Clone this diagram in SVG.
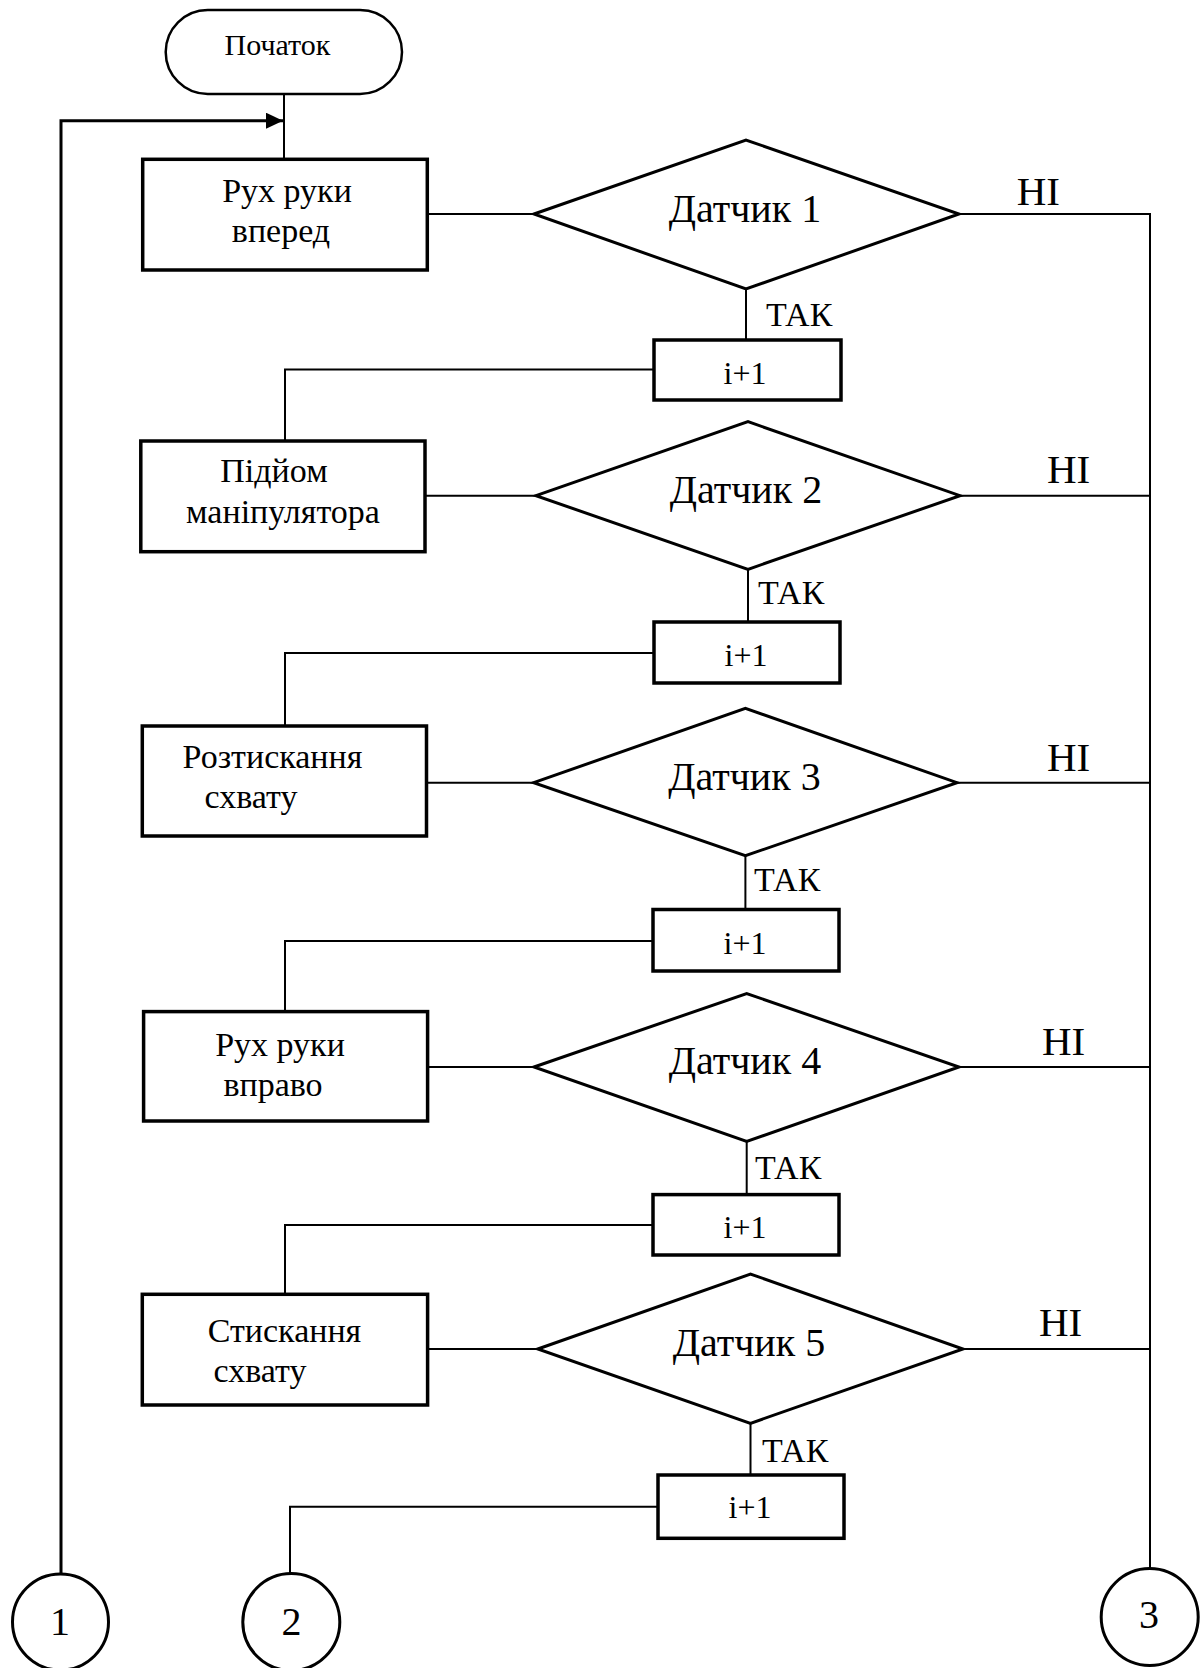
<svg xmlns="http://www.w3.org/2000/svg" width="1203" height="1668" viewBox="0 0 1203 1668">
<style>
text{font-family:"Liberation Serif","Times New Roman",serif;fill:#000;}
.box{fill:#fff;stroke:#000;stroke-width:3.5;}
.dia{fill:#fff;stroke:#000;stroke-width:3;}
.term{fill:#fff;stroke:#000;stroke-width:2.5;}
.conn{fill:#fff;stroke:#000;stroke-width:3;}
.ln{fill:none;stroke:#000;stroke-width:2;}
.lnb{fill:none;stroke:#000;stroke-width:3;}
.pt{font-size:34px;text-anchor:middle;}
.dt{font-size:40px;text-anchor:middle;}
.lbl{font-size:34px;}
.no{font-size:41px;}
.inc{font-size:32px;text-anchor:middle;}
.num{font-size:40px;text-anchor:middle;}
</style>
<defs>
<marker id="arr" markerWidth="18" markerHeight="16" refX="17" refY="8" orient="auto" markerUnits="userSpaceOnUse">
<path d="M0,0 L17,8 L0,16 Z" fill="#000"/>
</marker>
</defs>
<g id="connectors">
<line class="ln" x1="284" y1="94" x2="284" y2="159"/>
<polyline class="lnb" points="61,1574 61,120.7 283,120.7" marker-end="url(#arr)"/>
<line class="ln" x1="427" y1="214" x2="534" y2="214"/>
<polyline class="ln" points="959,214 1150,214 1150,1568"/>
<line class="ln" x1="746" y1="289" x2="746" y2="340"/>
<polyline class="ln" points="654,369.5 285,369.5 285,441"/>
<line class="ln" x1="425" y1="495.7" x2="536" y2="495.7"/>
<line class="ln" x1="960" y1="495.7" x2="1150" y2="495.7"/>
<line class="ln" x1="748" y1="569" x2="748" y2="622"/>
<polyline class="ln" points="654,653 285,653 285,726"/>
<line class="ln" x1="426.5" y1="782.7" x2="533.7" y2="782.7"/>
<line class="ln" x1="957" y1="782.7" x2="1150" y2="782.7"/>
<line class="ln" x1="745.4" y1="855.7" x2="745.4" y2="909.5"/>
<polyline class="ln" points="653,941 285,941 285,1011.6"/>
<line class="ln" x1="427.6" y1="1067" x2="534" y2="1067"/>
<line class="ln" x1="959" y1="1067" x2="1150" y2="1067"/>
<line class="ln" x1="746.7" y1="1141" x2="746.7" y2="1194.6"/>
<polyline class="ln" points="653,1225 285,1225 285,1294.3"/>
<line class="ln" x1="427.6" y1="1349" x2="537.8" y2="1349"/>
<line class="ln" x1="963" y1="1349" x2="1150" y2="1349"/>
<line class="ln" x1="750.5" y1="1423.3" x2="750.5" y2="1475"/>
<polyline class="ln" points="658,1506.7 290,1506.7 290,1574"/>
</g>
<g id="labels">
<text class="no" x="1016.7" y="205">НІ</text>
<text class="no" x="1047" y="483.3">НІ</text>
<text class="no" x="1047" y="771">НІ</text>
<text class="no" x="1042" y="1055">НІ</text>
<text class="no" x="1039" y="1336">НІ</text>
<text class="lbl" x="766" y="326">ТАК</text>
<text class="lbl" x="758" y="604">ТАК</text>
<text class="lbl" x="754" y="891">ТАК</text>
<text class="lbl" x="755" y="1178.6">ТАК</text>
<text class="lbl" x="762" y="1461.7">ТАК</text>
</g>
<g id="start">
<rect class="term" x="165.7" y="10" width="236.3" height="84" rx="42" ry="42"/>
<text x="277.5" y="55" font-size="30" text-anchor="middle">Початок</text>
</g>
<g id="p1">
<rect class="box" x="142.7" y="159.3" width="284.6" height="110.7"/>
<text class="pt" x="287" y="201.7">Рух руки</text>
<text class="pt" x="281" y="241.7">вперед</text>
</g>
<g id="d1">
<polygon class="dia" points="534,214 746,140 959,214 746,289"/>
<text class="dt" x="745" y="221.7">Датчик 1</text>
</g>
<g id="i1">
<rect class="box" x="654" y="340" width="187" height="60"/>
<text class="inc" x="745" y="384">i+1</text>
</g>
<g id="p2">
<rect class="box" x="140.8" y="441" width="284.2" height="110.7"/>
<text class="pt" x="274" y="481.7">Підйом</text>
<text class="pt" x="283" y="522.7">маніпулятора</text>
</g>
<g id="d2">
<polygon class="dia" points="536,495.7 748,421.7 960,495.7 748,569.3"/>
<text class="dt" x="746" y="503">Датчик 2</text>
</g>
<g id="i2">
<rect class="box" x="654" y="622" width="186" height="61"/>
<text class="inc" x="746" y="666">i+1</text>
</g>
<g id="p3">
<rect class="box" x="142.3" y="726" width="284.2" height="110"/>
<text class="pt" x="272.5" y="767.7">Розтискання</text>
<text class="pt" x="251" y="808">схвату</text>
</g>
<g id="d3">
<polygon class="dia" points="533.7,782.7 745.4,708.3 957,782.7 745.4,855.7"/>
<text class="dt" x="744.5" y="790">Датчик 3</text>
</g>
<g id="i3">
<rect class="box" x="653" y="909.5" width="186" height="61.5"/>
<text class="inc" x="745" y="954">i+1</text>
</g>
<g id="p4">
<rect class="box" x="143.6" y="1011.6" width="284" height="109.4"/>
<text class="pt" x="280" y="1056">Рух руки</text>
<text class="pt" x="273" y="1095.6">вправо</text>
</g>
<g id="d4">
<polygon class="dia" points="534,1067 746.7,993.5 959,1067 746.7,1141.4"/>
<text class="dt" x="745" y="1074">Датчик 4</text>
</g>
<g id="i4">
<rect class="box" x="653" y="1194.6" width="186" height="60.4"/>
<text class="inc" x="745" y="1238">i+1</text>
</g>
<g id="p5">
<rect class="box" x="142.3" y="1294.3" width="285.3" height="110.7"/>
<text class="pt" x="284.5" y="1341.7">Стискання</text>
<text class="pt" x="260" y="1381.7">схвату</text>
</g>
<g id="d5">
<polygon class="dia" points="537.8,1349 750.5,1274 963,1349 750.5,1423.3"/>
<text class="dt" x="749" y="1356">Датчик 5</text>
</g>
<g id="i5">
<rect class="box" x="658" y="1475" width="186" height="63.3"/>
<text class="inc" x="750" y="1518">i+1</text>
</g>
<g id="c1">
<circle class="conn" cx="60.5" cy="1622" r="48"/>
<text class="num" x="60" y="1635">1</text>
</g>
<g id="c2">
<circle class="conn" cx="291.3" cy="1622" r="48.5"/>
<text class="num" x="291.5" y="1635">2</text>
</g>
<g id="c3">
<circle class="conn" cx="1149.7" cy="1617" r="48.5"/>
<text class="num" x="1149" y="1628.3">3</text>
</g>
</svg>
